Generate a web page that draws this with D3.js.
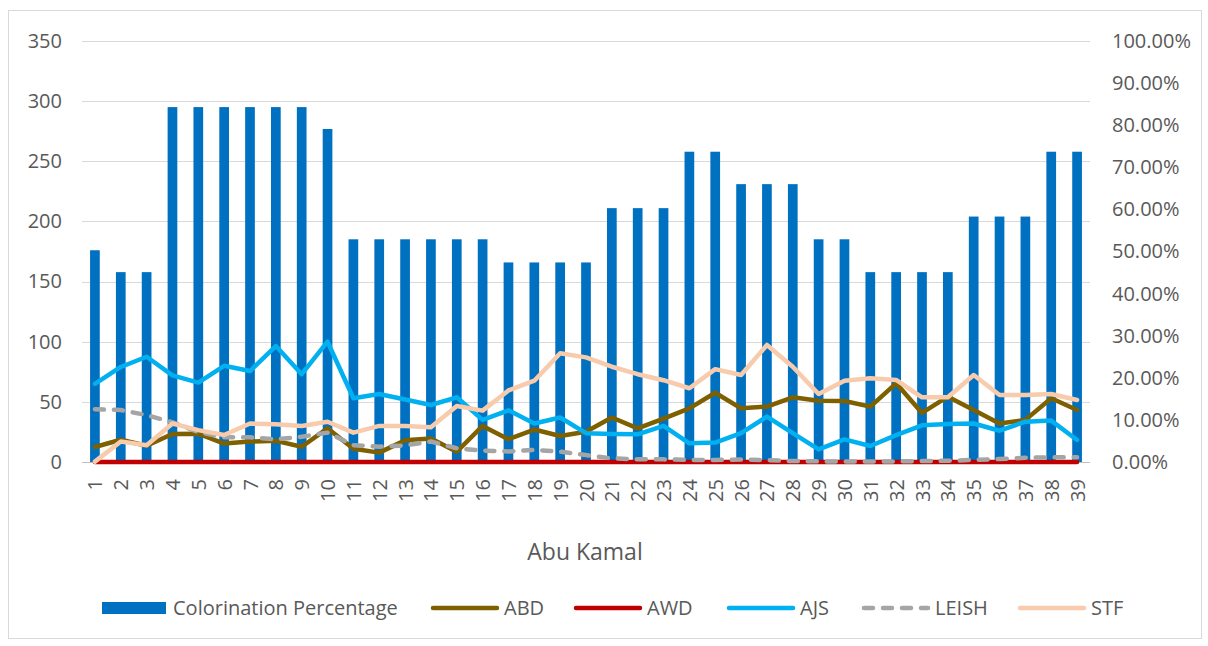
<!DOCTYPE html>
<html>
<head>
<meta charset="utf-8">
<script src="https://cdn.jsdelivr.net/npm/d3@7"></script>
<style>
  html, body { margin: 0; padding: 0; background: #fff; }
  svg { display: block; font-family: "Open Sans", "Noto Sans", sans-serif; }
</style>
</head>
<body>
<svg id="chart" width="1208" height="646"></svg>
<script>
// ---- data ----
const categories = ["1","2","3","4","5","6","7","8","9","10","11","12","13","14","15","16","17","18","19","20",
  "21","22","23","24","25","26","27","28","29","30","31","32","33","34","35","36","37","38","39"];

// Colorination Percentage (right axis, %)
const colorination = [50.3,45.1,45.1,84.3,84.3,84.3,84.3,84.3,84.3,79.1,52.9,52.9,52.9,52.9,52.9,52.9,47.4,47.4,47.4,47.4,
  60.3,60.3,60.3,73.7,73.7,66.0,66.0,66.0,52.9,52.9,45.1,45.1,45.1,45.1,58.3,58.3,58.3,73.7,73.7];

// line series (left axis)
const ABD = [12.5,18.5,13.5,23.3,23.5,15.3,17,17.6,12.7,28,11,7.8,18,19.5,8.5,30,19,27,21.6,25.2,
  37,28,36,44.6,57.6,44.6,46,53.8,51,50.7,46,65.4,40.8,54.3,43.2,32,35,53,43.2];
const AWD = [0,0,0,0,0,0,0,0,0,0,0,0,0,0,0,0,0,0,0,0,0,0,0,0,0,0,0,0,0,0,0,0,0,0,0,0,0,0,0];
const AJS = [65,79,87.5,72,66,80,75.6,96.4,73,100,53,56.5,52,47.4,53.8,35,43,32,37,24,
  23.3,23,30,15.5,16.2,24,37.7,24,10.5,18.8,13.3,22.4,30.5,31.6,32,26,33.5,34.4,18.3];
const LEISH = [43.8,43.2,39,33,24.8,20.5,20.5,18.8,21,24.4,14,12.7,13.8,17,11.4,9.4,8.8,10,8.6,5.8,
  3,2.2,2.2,1.7,1.7,2,1.5,0.8,0.5,0.5,0.5,0.5,0.8,1,1.7,2.5,3.5,3.9,3.9];
const STF = [0.3,17,14,32,26.5,22.4,32,31.3,30,33.5,24.4,30,30,28.8,46.5,42.7,59.5,67.6,90.4,87,
  79.2,73,68,61.3,77.2,72.3,97.3,79.2,56.5,67.6,69.6,68.2,53.8,53.8,72.3,55.7,55.7,56.5,51.5];

const leftTicks = [0,50,100,150,200,250,300,350];
const rightTicks = [0,0.1,0.2,0.3,0.4,0.5,0.6,0.7,0.8,0.9,1.0];
const xTitle = "Abu Kamal";

const seriesNames = ["ABD","AWD","AJS","LEISH","STF"];
const seriesData = [ABD, AWD, AJS, LEISH, STF];
const seriesColors = ["#7F6000","#C00000","#00B0F0","#A5A5A5","#F8CBAD"];
const seriesDash = [null,null,null,"9,10",null];
const barName = "Colorination Percentage";
const barColor = "#0070C0";

// ---- layout ----
const svg = d3.select("#chart");
const plot = {left: 82, right: 1090, top: 41, bottom: 462};
const textColor = "#595959";
const fs = "20px";

svg.append("rect").attr("x",0).attr("y",0).attr("width",1208).attr("height",646).attr("fill","#fff");
svg.append("rect").attr("x",8.5).attr("y",10.5).attr("width",1193).attr("height",628)
  .attr("fill","none").attr("stroke","#D9D9D9").attr("stroke-width",1);

const x = d3.scaleBand().domain(categories).range([plot.left, plot.right])
  .paddingInner(0.625).paddingOuter(0.3125);
const xp = d3.scalePoint().domain(categories).range([plot.left, plot.right]).padding(0.5);
const yL = d3.scaleLinear().domain([0,350]).range([plot.bottom, plot.top]);
const yR = d3.scaleLinear().domain([0,1]).range([plot.bottom, plot.top]);

// gridlines
svg.append("g").selectAll("line").data(leftTicks.filter(d => d > 0)).join("line")
  .attr("x1", plot.left).attr("x2", plot.right)
  .attr("y1", d => Math.round(yL(d)) + 0.5).attr("y2", d => Math.round(yL(d)) + 0.5)
  .attr("stroke", "#D9D9D9").attr("stroke-width", 1);

// left axis
const gL = svg.append("g").attr("transform", `translate(${plot.left - 18},0)`)
  .call(d3.axisLeft(yL).tickValues(leftTicks).tickSize(0).tickPadding(2).tickFormat(d3.format("d")));
gL.select(".domain").remove();
gL.selectAll("text").attr("fill", textColor).style("font-size", fs)
  .style("font-family", "'Open Sans', sans-serif");

// right axis
const gR = svg.append("g").attr("transform", `translate(${plot.right + 20},0)`)
  .call(d3.axisRight(yR).tickValues(rightTicks).tickSize(0).tickPadding(2).tickFormat(d3.format(".2%")));
gR.select(".domain").remove();
gR.selectAll("text").attr("fill", textColor).style("font-size", fs)
  .style("font-family", "'Open Sans', sans-serif");

// bars
svg.append("g").selectAll("rect").data(colorination).join("rect")
  .attr("x", (d,i) => x(categories[i]))
  .attr("width", x.bandwidth())
  .attr("y", d => yR(d/100))
  .attr("height", d => plot.bottom - yR(d/100))
  .attr("fill", barColor);

// baseline
svg.append("line").attr("x1", plot.left).attr("x2", plot.right)
  .attr("y1", plot.bottom + 0.5).attr("y2", plot.bottom + 0.5)
  .attr("stroke", "#BFBFBF").attr("stroke-width", 1);

// x axis
const gX = svg.append("g").attr("transform", `translate(0,${plot.bottom})`)
  .call(d3.axisBottom(xp).tickSize(0).tickPadding(0));
gX.select(".domain").remove();
gX.selectAll("text")
  .attr("transform", "translate(0,17) rotate(-90)")
  .attr("x", 0).attr("y", 0).attr("dy", "0.35em")
  .attr("text-anchor", "end")
  .attr("fill", textColor).style("font-size", fs)
  .style("font-family", "'Open Sans', sans-serif");

// lines
const line = d3.line().x((d,i) => xp(categories[i])).y(d => yL(d)).curve(d3.curveLinear);
seriesData.forEach((arr, k) => {
  svg.append("path").datum(arr)
    .attr("d", line)
    .attr("fill", "none")
    .attr("stroke", seriesColors[k])
    .attr("stroke-width", 4.5)
    .attr("stroke-linejoin", "round")
    .attr("stroke-linecap", "round")
    .attr("stroke-dasharray", seriesDash[k]);
});

// x title
svg.append("text").attr("x", 585).attr("y", 552).attr("dy", "0.35em")
  .attr("text-anchor", "middle").attr("fill", textColor)
  .style("font-size", "23px").text(xTitle);

// legend
const legY = 608;
const lg = svg.append("g");
lg.append("rect").attr("x", 102).attr("y", legY - 6).attr("width", 64).attr("height", 12).attr("fill", barColor);
lg.append("text").attr("x", 173).attr("y", legY).attr("dy", "0.35em").attr("fill", textColor)
  .style("font-size", fs).text(barName);
const legX = [433, 576, 729, 864, 1020];
seriesNames.forEach((n, k) => {
  lg.append("line").attr("x1", legX[k]).attr("x2", legX[k] + 64)
    .attr("y1", legY).attr("y2", legY)
    .attr("stroke", seriesColors[k]).attr("stroke-width", 4.5)
    .attr("stroke-linecap", "round")
    .attr("stroke-dasharray", seriesDash[k]);
  lg.append("text").attr("x", legX[k] + 71).attr("y", legY).attr("dy", "0.35em")
    .attr("fill", textColor).style("font-size", fs).text(n);
});
</script>
</body>
</html>
